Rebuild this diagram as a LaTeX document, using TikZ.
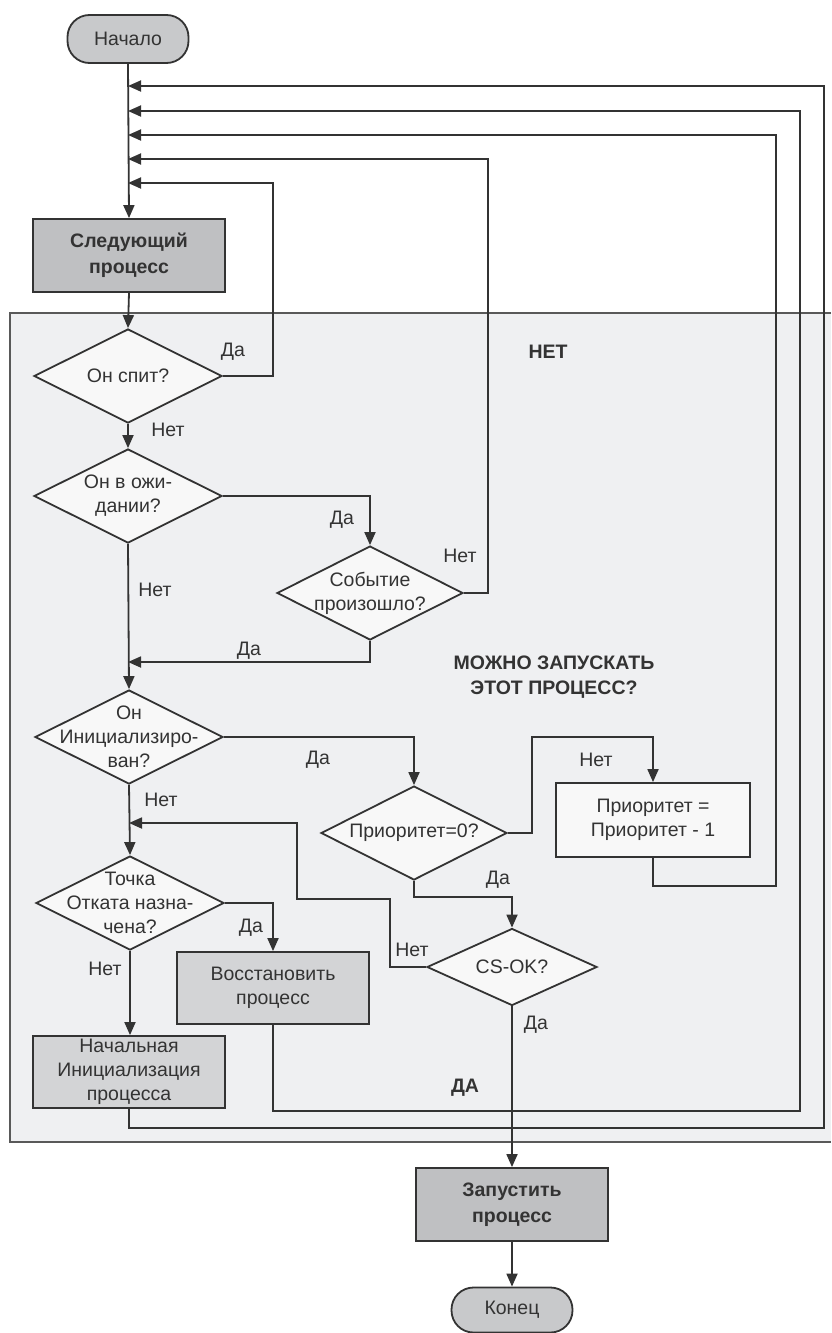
\documentclass[tikz,border=0pt]{standalone}
\usepackage{fontspec}
\setmainfont{Liberation Sans}
\usetikzlibrary{arrows.meta,shapes.geometric}
\definecolor{regionfill}{HTML}{EFF0F2}
\definecolor{darkbox}{HTML}{BFC0C2}
\definecolor{midbox}{HTML}{D3D4D6}
\definecolor{termfill}{HTML}{C8C9CB}
\definecolor{diafill}{HTML}{F8F8F8}
\definecolor{linec}{HTML}{333333}
\definecolor{textc}{HTML}{333333}
\tikzset{
  every node/.style={font=\fontsize{19.5}{24}\selectfont, text=textc},
  conn/.style={draw=linec, line width=1.8pt},
  arr/.style={conn, -{Triangle[length=13pt,width=11pt]}},
  boxbase/.style={draw=linec, line width=1.8pt, rectangle, align=center, inner sep=0pt},
  darkbox/.style={boxbase, fill=darkbox, font=\fontsize{19.5}{26}\selectfont\bfseries},
  midbox/.style={boxbase, fill=midbox},
  lightbox/.style={boxbase, fill=diafill},
  term/.style={draw=linec, line width=1.8pt, fill=termfill, rounded corners=22pt, inner sep=0pt},
  dia/.style={draw=linec, line width=1.8pt, fill=diafill, diamond, inner sep=0pt},
  dtext/.style={align=center, inner sep=0pt},
  lbl/.style={inner sep=0pt},
  bold/.style={inner sep=0pt, align=center, font=\fontsize{19.5}{25}\selectfont\bfseries}
}
\begin{document}
\begin{tikzpicture}[x=1pt,y=-1pt]
\useasboundingbox (0,0) rectangle (831,1333);
% region
\fill[regionfill] (10,313) rectangle (831,1142);
\draw[draw=gray!70!black, line width=1.4pt] (831,313) -- (10,313) -- (10,1142) -- (831,1142);

% terminals and boxes
\node[term, minimum width=121pt, minimum height=48pt] (start) at (128,39) {Начало};
\node[darkbox, minimum width=192pt, minimum height=73pt] (next) at (129,255.5) {Следующий\\процесс};
\node[darkbox, minimum width=192pt, minimum height=73pt] (run) at (512,1204.5) {Запустить\\процесс};
\node[term, minimum width=121pt, minimum height=45pt] (end) at (512,1310) {Конец};
\node[lightbox, minimum width=194pt, minimum height=74pt] (prio) at (653,820) {Приоритет =\\Приоритет - 1};
\node[midbox, minimum width=192pt, minimum height=72pt] (restore) at (273,988) {Восстановить\\процесс};
\node[midbox, minimum width=192pt, minimum height=72pt] (init) at (129,1072) {Начальная\\Инициализация\\процесса};

% diamonds
\node[dia, minimum width=188pt, minimum height=94pt] (d1) at (128,376) {};
\node[dtext] (d1t) at (d1.center) {Он спит?};
\node[dia, minimum width=188pt, minimum height=94pt] (d2) at (128,496) {};
\node[dtext] (d2t) at (d2.center) {Он в ожи-\\дании?};
\node[dia, minimum width=186pt, minimum height=94pt] (d3) at (370,593) {};
\node[dtext] (d3t) at (d3.center) {Событие\\произошло?};
\node[dia, minimum width=188pt, minimum height=94pt] (d4) at (129,737) {};
\node[dtext] (d4t) at (d4.center) {Он\\Инициализиро-\\ван?};
\node[dia, minimum width=186pt, minimum height=94pt] (d5) at (414,833) {};
\node[dtext] (d5t) at (d5.center) {Приоритет=0?};
\node[dia, minimum width=170pt, minimum height=77pt] (d6) at (512,967) {};
\node[dtext] (d6t) at (d6.center) {CS-OK?};
\node[dia, minimum width=188pt, minimum height=94pt] (d7) at (130,903) {};
\node[dtext] (d7t) at (d7.center) {Точка\\Отката назна-\\чена?};

% merge points on main line
\coordinate (m1) at (128,86);
\coordinate (m2) at (128,111);
\coordinate (m3) at (128,135);
\coordinate (m4) at (128,159);
\coordinate (m5) at (128,183);
\coordinate (j1) at (128,662);
\coordinate (j2) at (129,823);

% connectors
\draw[arr] (start.south) -- (next.north);
\draw[arr] (next.south) -- (d1.north);
\draw[arr] (d1.east) -- (273,376) -- (273,183) -- (m5);
\draw[arr] (d1.south) -- (d2.north);
\draw[arr] (d2.east) -- (370,496) -- (d3.north);
\draw[arr] (d3.east) -- (488,593) -- (488,159) -- (m4);
\draw[arr] (d3.south) -- (370,662) -- (j1);
\draw[arr] (d2.south) -- (d4.north);
\draw[arr] (d4.east) -- (414,737) -- (d5.north);
\draw[arr] (d5.east) -- (532,833) -- (532,737) -- (653,737) -- (prio.north);
\draw[arr] (prio.south) -- (653,886) -- (776,886) -- (776,135) -- (m3);
\draw[arr] (d5.south) -- (414,897) -- (512,897) -- (d6.north);
\draw[arr] (d6.west) -- (390,967) -- (390,899) -- (297,899) -- (297,823) -- (j2);
\draw[arr] (d4.south) -- (d7.north);
\draw[arr] (d7.east) -- (273,903) -- (restore.north);
\draw[arr] (restore.south) -- (273,1111) -- (800,1111) -- (800,111) -- (m2);
\draw[arr] (d7.south) -- (d7.south |- init.north);
\draw[arr] (init.south) -- (129,1128) -- (824,1128) -- (824,86) -- (m1);
\draw[arr] (d6.south) -- (run.north);
\draw[arr] (run.south) -- (end.north);

% labels
\node[lbl] (l1) at (233,352) {Да};
\node[lbl] (l2) at (168,430) {Нет};
\node[lbl] (l3) at (342,520) {Да};
\node[lbl] (l4) at (460,556) {Нет};
\node[lbl] (l5) at (155,590) {Нет};
\node[lbl] (l6) at (249,651) {Да};
\node[lbl] (l7) at (318,760) {Да};
\node[lbl] (l8) at (596,760) {Нет};
\node[lbl] (l9) at (161,800) {Нет};
\node[lbl] (l10) at (498,880) {Да};
\node[lbl] (l11) at (251,928) {Да};
\node[lbl] (l12) at (412,950) {Нет};
\node[lbl] (l13) at (105,969) {Нет};
\node[lbl] (l14) at (536,1025) {Да};
\node[bold] (b1) at (548,352) {НЕТ};
\node[bold] (b2) at (554,677) {МОЖНО ЗАПУСКАТЬ\\ЭТОТ ПРОЦЕСС?};
\node[bold] (b3) at (465,1088) {ДА};
\end{tikzpicture}
\end{document}
